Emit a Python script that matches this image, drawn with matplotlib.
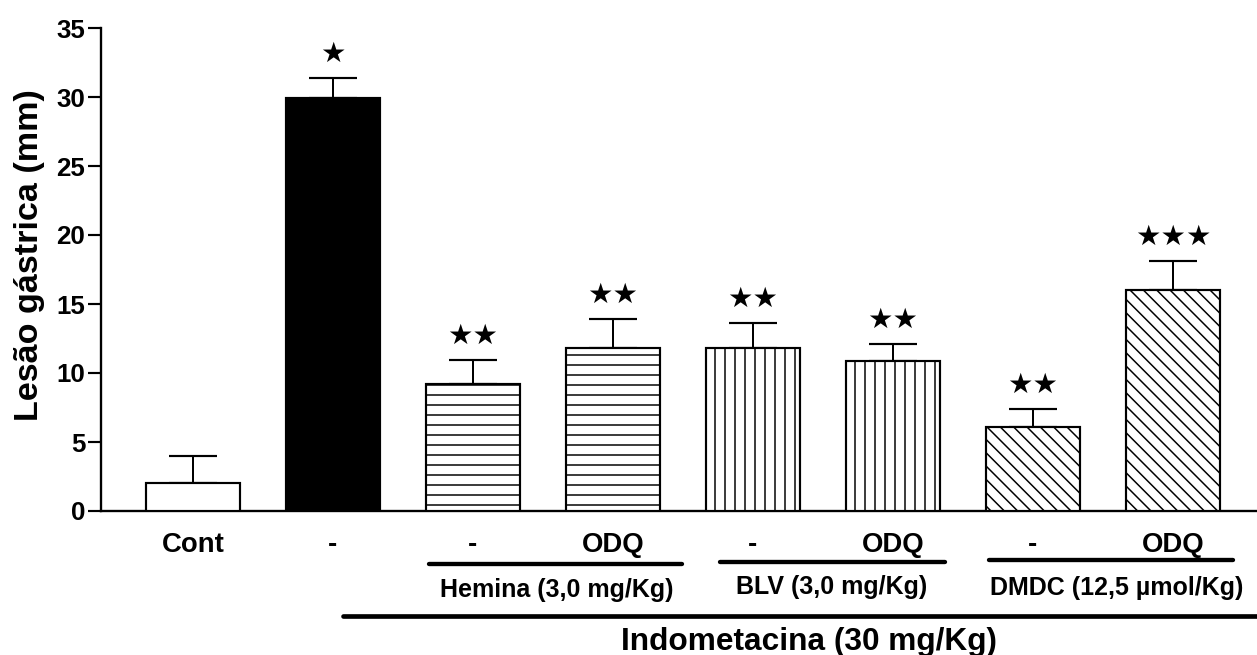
import numpy as np
import matplotlib
matplotlib.use("Agg")
import matplotlib.pyplot as plt
import matplotlib.transforms as mtransforms

# data
labels = ["Cont", "-", "-", "ODQ", "-", "ODQ", "-", "ODQ"]
values = [2.0, 29.9, 9.2, 11.8, 11.8, 10.85, 6.1, 16.0]
errors = [1.95, 1.5, 1.75, 2.1, 1.8, 1.25, 1.3, 2.15]
stars = ["", "★", "★★", "★★", "★★", "★★", "★★", "★★★"]
fills = ["white", "black", "white", "white", "white", "white", "white", "white"]
hatches = [None, None, "--", "--", "||", "||", "\\\\\\", "\\\\\\"]

group_names = ["Hemina (3,0 mg/Kg)", "BLV (3,0 mg/Kg)", "DMDC (12,5 µmol/Kg)"]
indo_label = "Indometacina (30 mg/Kg)"

plt.rcParams["font.family"] = ["Liberation Sans", "DejaVu Sans"]
plt.rcParams["font.weight"] = "bold"
plt.rcParams["hatch.linewidth"] = 0.9

W, H, DPI = 1257, 655, 120
fig = plt.figure(figsize=(W / DPI, H / DPI), dpi=DPI)
ax = fig.add_axes([101 / W, 1 - 511 / H, (W - 101) / W, (511 - 28) / H])

x = np.arange(len(values))
bars = ax.bar(x, values, width=0.67, color=fills, edgecolor="black",
              linewidth=1.3, zorder=3)
for b, h in zip(bars, hatches):
    if h:
        b.set_hatch(h)

ax.errorbar(x, values, yerr=[np.zeros(len(errors)), errors], fmt="none",
            ecolor="black", elinewidth=1.2, capsize=14.4, capthick=1.3, zorder=2)

for xi, v, e, s in zip(x, values, errors, stars):
    if s:
        ax.annotate(s, xy=(xi, v + e), xytext=(0, 6), textcoords="offset points",
                    ha="center", va="bottom", fontsize=17, family=["DejaVu Sans"])

ax.set_xlim(-0.657, 7.6)
ax.set_ylim(0, 35)
ax.set_yticks(np.arange(0, 36, 5))
ax.set_xticks([])
for side in ["top", "right"]:
    ax.spines[side].set_visible(False)
ax.spines["left"].set_linewidth(1.4)
ax.spines["bottom"].set_linewidth(1.4)
ax.tick_params(axis="y", length=8, width=1.3, pad=1.5, labelsize=15.5)
for t in ax.get_yticklabels():
    t.set_fontweight("bold")

fig.text(30 / W, 1 - 255 / H, "Lesão gástrica (mm)", rotation=90,
         ha="center", va="center", fontsize=20.5, fontweight="bold")

# annotations below the axis: x in data, y in figure pixels
tr = mtransforms.blended_transform_factory(ax.transData, fig.transFigure)

def fy(p):
    return 1 - p / H

for xi, lab in zip(x, labels):
    fig.text(xi, fy(552), lab, transform=tr, ha="center", va="baseline",
             fontsize=16.5, fontweight="bold")

group_lines = [(1.686, 3.493, 564), (3.764, 5.371, 562), (5.686, 7.429, 560)]
group_text = [(2.6, 597), (4.564, 594), (6.6, 595)]
for (x0, x1, yl), name, (xt, yb) in zip(group_lines, group_names, group_text):
    ax.plot([x0, x1], [fy(yl), fy(yl)], transform=tr, color="black", lw=2.6,
            solid_capstyle="round", clip_on=False)
    fig.text(xt, fy(yb), name, transform=tr, ha="center",
             va="baseline", fontsize=15, fontweight="bold")

ax.plot([1.071, 7.6], [fy(616), fy(616)], transform=tr, color="black", lw=2.8,
        solid_capstyle="round", clip_on=False)
fig.text(4.4, fy(650), indo_label, transform=tr, ha="center", va="baseline",
         fontsize=19, fontweight="bold")

fig.savefig("out.png", dpi=DPI)
